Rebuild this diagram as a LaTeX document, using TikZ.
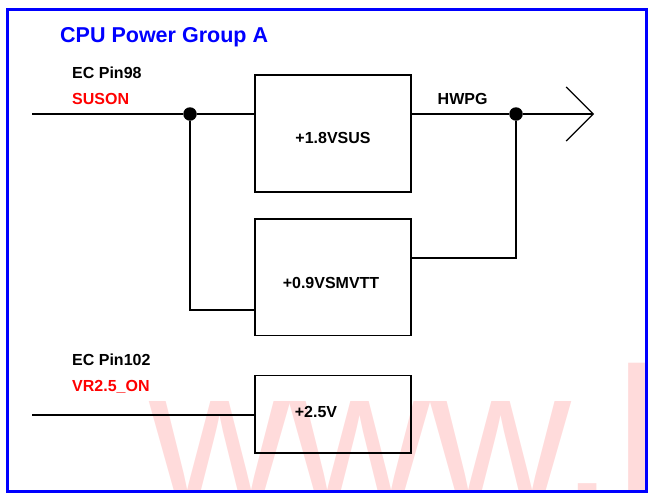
\documentclass[tikz,border=0pt]{standalone}
\usepackage{fontspec}
\setmainfont{Liberation Sans}
\usetikzlibrary{arrows.meta, positioning}

\begin{document}
\begin{tikzpicture}[x=1pt, y=-1pt,
  box/.style={draw, line width=1.2pt, minimum width=156pt, inner sep=0pt},
  tag/.style={font=\fontsize{16}{18}\selectfont\bfseries, inner sep=0pt, anchor=base west},
  wire/.style={line width=1.2pt},
  dot/.style={circle, fill, inner sep=0pt, minimum size=13.5pt}]
\useasboundingbox (0,0) rectangle (652,493);

% watermark
\begin{scope}
  \clip (8.5,11) rectangle (644.5,489.5);
  \node[anchor=base west, inner sep=0pt, text=red!14, font=\fontsize{195}{200}\selectfont] (wm) at (149,504) {www.l};
\end{scope}

% frame and title
\draw[blue, line width=3pt] (7,9.5) rectangle (646,491);
\node[anchor=base west, inner sep=0pt, text=blue, font=\fontsize{21.5}{24}\selectfont\bfseries] (title) at (60,42.7) {CPU Power Group A};

% regulators
\node[box, minimum height=117pt] (sus) at (333,133.5) {};
\node[box, minimum height=116.7pt] (vtt) at (333,277.3) {};
\node[box, minimum height=77.3pt] (v25) at (333,414.4) {};
\node[tag, anchor=base] (sustxt) at (333,143.3) {+1.8VSUS};
\node[tag, anchor=base] (vtttxt) at (331,288.3) {+0.9VSMVTT};
\node[tag, anchor=base] (v25txt) at (316,417.5) {+2.5V};

% signal names
\node[tag] (pin98) at (72,78.3) {EC Pin98};
\node[tag, text=red] (suson) at (72,104.3) {SUSON};
\node[tag] (pin102) at (72,365.7) {EC Pin102};
\node[tag, text=red] (vron) at (72,391.5) {VR2.5\_ON};
\node[tag] (hwpg) at (437.5,104.3) {HWPG};

% wiring
\coordinate (in1) at (32,114);
\coordinate (in2) at (32,415);
\coordinate (pg) at (594,114);
\node[dot] (j1) at (190,114) {};
\node[dot] (j2) at (516,114) {};

\draw[wire] (in1) -- (j1) -- (sus.west |- j1);
\draw[wire] (j1) |- (vtt.west |- 0,310);
\draw[wire] (sus.east |- j2) -- (j2);
\draw[wire, -{Straight Barb[length=27pt, width=54pt]}] (j2) -- (pg);
\draw[wire] (vtt.east |- 0,258) -| (j2);
\draw[wire] (in2) -- (v25.west |- in2);
\end{tikzpicture}
\end{document}
